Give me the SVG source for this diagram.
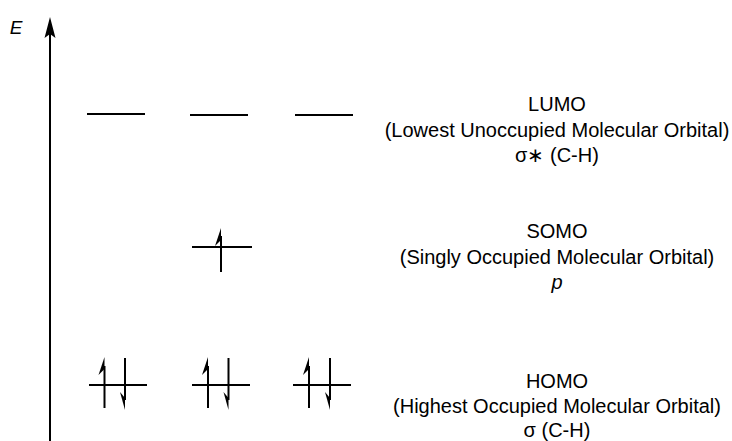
<svg xmlns="http://www.w3.org/2000/svg" width="732" height="441" viewBox="0 0 732 441">
<style>
.lvl{stroke:#000;stroke-width:2;fill:none}
.ln{stroke:#000;stroke-width:2;fill:none}
.t{font-family:"Liberation Sans",Arial,sans-serif;font-size:20px;fill:#000;text-anchor:middle}
.i{font-style:italic}
</style>
<defs>
<polygon id="up" points="0,0 -6,18 0,12" fill="#000"/>
<polygon id="dn" points="0,0 -5,-18 0,-12" fill="#000"/>
</defs>
<rect width="732" height="441" fill="#fff"/>
<g id="axis">
<line class="ln" x1="50" y1="30" x2="50" y2="441"/>
<polygon points="50,17 55.5,38 50,34 44.5,38" fill="#000"/>
<text class="t i" x="16" y="34" style="font-size:19px">E</text>
</g>
<g id="lumo">
<line class="lvl" x1="87" y1="114" x2="145" y2="114"/>
<line class="lvl" x1="190" y1="115" x2="248" y2="115"/>
<line class="lvl" x1="295" y1="115" x2="353" y2="115"/>
</g>
<g id="somo">
<line class="lvl" x1="192" y1="247" x2="252" y2="247"/>
<line class="ln" x1="221" y1="236" x2="221" y2="272"/>
<use href="#up" x="221" y="228"/>
</g>
<g id="homo">
<line class="lvl" x1="89" y1="385" x2="147" y2="385"/>
<line class="ln" x1="104.5" y1="366" x2="104.5" y2="408"/>
<use href="#up" x="104.5" y="357"/>
<line class="ln" x1="125" y1="358" x2="125" y2="400"/>
<use href="#dn" x="125" y="410"/>
<line class="lvl" x1="192" y1="385" x2="250" y2="385"/>
<line class="ln" x1="208" y1="366" x2="208" y2="408"/>
<use href="#up" x="208" y="357"/>
<line class="ln" x1="228.5" y1="358" x2="228.5" y2="400"/>
<use href="#dn" x="228.5" y="410"/>
<line class="lvl" x1="293" y1="385" x2="351" y2="385"/>
<line class="ln" x1="309" y1="366" x2="309" y2="408"/>
<use href="#up" x="309" y="357"/>
<line class="ln" x1="330" y1="358" x2="330" y2="400"/>
<use href="#dn" x="330" y="410"/>
</g>
<g id="lumo-label">
<text class="t" x="557" y="111">LUMO</text>
<text class="t" x="557" y="137">(Lowest Unoccupied Molecular Orbital)</text>
<text class="t" x="557" y="162">σ∗ (C-H)</text>
</g>
<g id="somo-label">
<text class="t" x="557" y="238">SOMO</text>
<text class="t" x="557" y="264">(Singly Occupied Molecular Orbital)</text>
<text class="t i" x="557" y="289">p</text>
</g>
<g id="homo-label">
<text class="t" x="557" y="388">HOMO</text>
<text class="t" x="557" y="413">(Highest Occupied Molecular Orbital)</text>
<text class="t" x="557" y="437">σ (C-H)</text>
</g>
</svg>
